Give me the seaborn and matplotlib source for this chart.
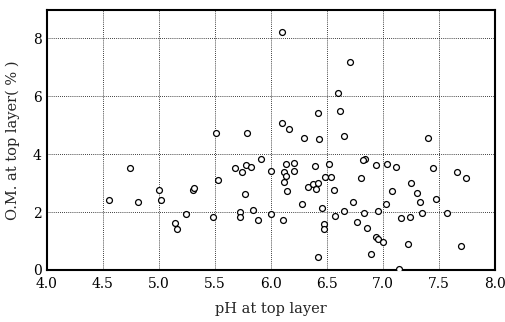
import matplotlib
matplotlib.use("Agg")
import matplotlib.pyplot as plt
import seaborn as sns
import pandas as pd

ph = [4.55, 4.74, 4.815, 5.0, 5.02, 5.24, 5.14, 5.16, 5.30, 5.31,
      6.095, 6.71, 6.60, 6.417, 6.616, 6.10, 6.165, 5.51, 5.79, 6.295,
      6.43, 6.65, 7.40, 5.91, 5.68, 5.78, 5.82, 5.745, 6.0, 6.137,
      6.21, 6.21, 6.116, 6.137, 6.116, 6.14, 6.39, 6.515, 6.485, 6.54,
      6.33, 6.38, 6.42, 6.405, 6.565, 6.28, 6.46, 6.655, 6.575, 6.476,
      6.476, 6.42, 5.527, 5.765, 5.837, 5.72, 5.72, 5.48, 5.887, 6.0,
      6.11, 6.84, 6.82, 6.94, 7.036, 7.12, 7.45, 7.66, 7.74, 6.80,
      7.25, 7.08, 7.30, 6.73, 7.03, 7.33, 7.47, 6.83, 6.955, 7.345,
      7.575, 7.16, 7.245, 6.765, 6.855, 6.935, 6.96, 7.0, 7.22, 7.70,
      6.89, 7.145]
om = [2.41, 3.53, 2.34, 2.76, 2.40, 1.93, 1.63, 1.40, 2.76, 2.82,
      8.22, 7.18, 6.09, 5.43, 5.49, 5.08, 4.86, 4.73, 4.73, 4.57,
      4.51, 4.62, 4.57, 3.82, 3.53, 3.61, 3.56, 3.37, 3.41, 3.66,
      3.68, 3.42, 3.39, 3.24, 3.05, 2.74, 3.59, 3.67, 3.22, 3.21,
      2.85, 2.95, 2.99, 2.79, 2.77, 2.28, 2.13, 2.05, 1.85, 1.58,
      1.43, 0.44, 3.09, 2.63, 2.07, 2.01, 1.82, 1.82, 1.74, 1.93,
      1.74, 3.83, 3.78, 3.61, 3.64, 3.56, 3.51, 3.39, 3.16, 3.17,
      2.99, 2.74, 2.67, 2.36, 2.28, 2.34, 2.45, 1.97, 2.05, 1.98,
      1.98, 1.79, 1.83, 1.67, 1.44, 1.15, 1.06, 0.97, 0.89, 0.82,
      0.55, 0.02]

xticks = [4.0, 4.5, 5.0, 5.5, 6.0, 6.5, 7.0, 7.5, 8.0]
xticklabels = ["4.0", "4.5", "5.0", "5.5", "6.0", "6.5", "7.0", "7.5", "8.0"]
yticks = [0, 2, 4, 6, 8]
yticklabels = ["0", "2", "4", "6", "8"]

df = pd.DataFrame({"pH": ph, "OM": om})

sns.set_style("white")
plt.rcParams["font.family"] = ["DejaVu Serif"]

fig = plt.figure(figsize=(5.05, 3.22), dpi=100)
ax = fig.add_axes([0.093, 0.1615, 0.887, 0.8075])

sns.scatterplot(data=df, x="pH", y="OM", ax=ax, marker="o", s=18,
                facecolor="white", edgecolor="black", linewidth=0.9, zorder=3)

ax.set_xlim(4.0, 8.0)
ax.set_ylim(0, 8.97)
ax.set_xticks(xticks)
ax.set_xticklabels(xticklabels, fontsize=10)
ax.set_yticks(yticks)
ax.set_yticklabels(yticklabels, fontsize=10)
ax.grid(True, linestyle=(0, (1, 1.5)), color="black", linewidth=0.6)
ax.tick_params(axis="x", direction="in", length=3, width=0.8, pad=5, colors="black")
ax.tick_params(axis="y", direction="in", length=3, width=0.8, pad=4, colors="black")
for side, sp in ax.spines.items():
    sp.set_visible(True)
    sp.set_color("black")
    sp.set_linewidth(1.5)

ax.set_xlabel("pH at top layer", fontsize=10.5, labelpad=8)
ax.set_ylabel("O.M. at top layer( % )", fontsize=10.5, labelpad=9)

fig.savefig("out.png", dpi=100)
